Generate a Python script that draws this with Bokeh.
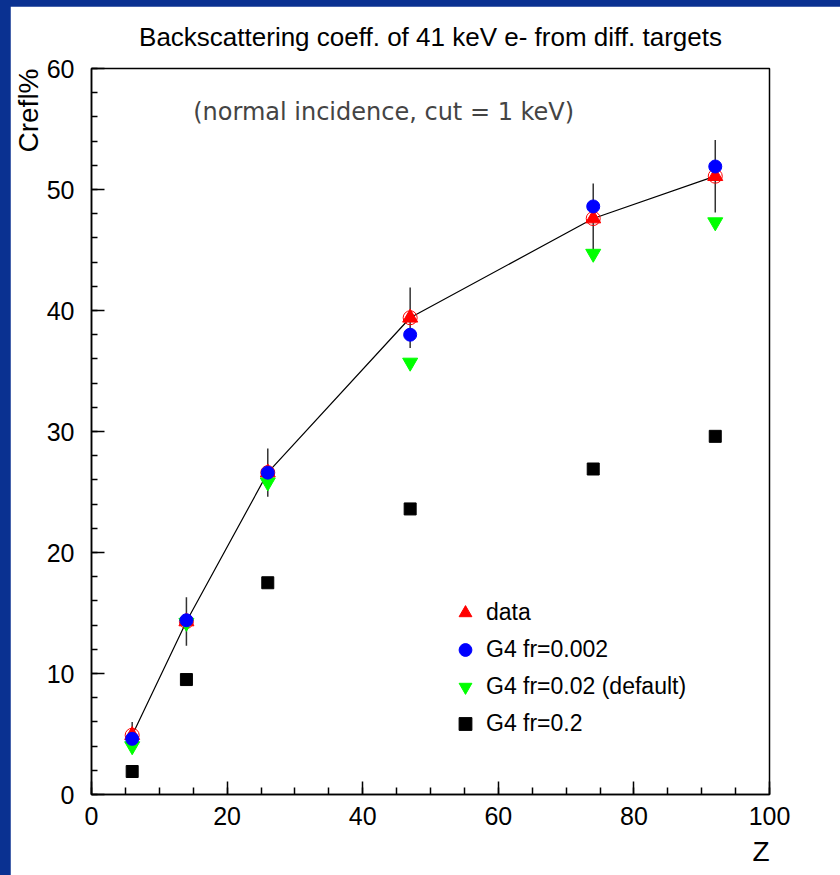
from bokeh.plotting import figure
from bokeh.models import (FixedTicker, Title, Label, Legend, LegendItem, ColumnDataSource)
from bokeh.layouts import column
from bokeh.embed import file_html
from bokeh.resources import INLINE

# ---- data ----
Z = [6, 14, 26, 47, 74, 92]
data = [4.9, 14.3, 26.6, 39.4, 47.6, 51.1]
data_err = [1.1, 2.0, 2.0, 2.5, 2.9, 3.0]
g4_0002 = [4.6, 14.4, 26.6, 38.0, 48.6, 51.9]
g4_002 = [4.0, 14.2, 25.8, 35.7, 44.7, 47.3]
g4_02 = [1.9, 9.5, 17.5, 23.6, 26.9, 29.6]

x_major = [0, 20, 40, 60, 80, 100]
x_minor = list(range(0, 101, 5))
y_major = [0, 10, 20, 30, 40, 50, 60]
y_minor = list(range(0, 61, 2))

title_text = "Backscattering coeff. of 41 keV e- from diff. targets"
note_text = "(normal incidence, cut = 1 keV)"
note_pos = (15.0, 56.4)

FONT = "Liberation Sans"

p = figure(width=830, height=869, x_range=(0, 100), y_range=(0, 60),
           output_backend="svg", toolbar_location=None,
           min_border_left=81, min_border_right=71, min_border_top=61, min_border_bottom=81)
p.margin = (6, 0, 0, 10)
p.background_fill_color = "white"
p.border_fill_color = "white"
p.outline_line_color = "black"
p.outline_line_width = 1.5
p.xgrid.visible = False
p.ygrid.visible = False

p.title = Title(text=title_text, align="center", text_font=FONT, text_color="black",
                text_font_size="26px", text_font_style="normal", standoff=30,
                vertical_align="top")

for ax, maj, mnr in ((p.xaxis[0], x_major, x_minor), (p.yaxis[0], y_major, y_minor)):
    ax.ticker = FixedTicker(ticks=maj, minor_ticks=mnr)
    ax.major_tick_in = 13
    ax.major_tick_out = 0
    ax.minor_tick_out = 0
    ax.axis_line_width = 1.5
    ax.major_tick_line_width = 1.5
    ax.minor_tick_line_width = 1.5
    ax.major_label_text_font = FONT
    ax.major_label_text_font_size = "25px"
    ax.major_label_text_color = "black"
p.xaxis[0].minor_tick_in = 7
p.yaxis[0].minor_tick_in = 6
p.xaxis[0].major_label_standoff = 12
p.yaxis[0].major_label_standoff = 17

p.add_layout(Title(text="Crefl%", align="right", text_font=FONT, text_color="black",
                   text_font_size="28px", text_font_style="normal", standoff=0), "left")
p.add_layout(Title(text="Z", align="right", text_font=FONT, text_color="black",
                   text_font_size="28px", text_font_style="normal", standoff=12), "below")

src = ColumnDataSource(dict(
    Z=Z, data=data,
    lo=[d - e for d, e in zip(data, data_err)],
    hi=[d + e for d, e in zip(data, data_err)],
    g1=g4_0002, g2=g4_002, g3=g4_02))

p.segment(x0="Z", y0="lo", x1="Z", y1="hi", source=src, line_color="#333333", line_width=1.5)
p.line(x="Z", y="data", source=src, line_color="black", line_width=1.2)
p.scatter(x="Z", y="data", source=src, marker="circle", size=14,
          fill_color=None, line_color="red", line_width=1)
r_data = p.scatter(x="Z", y="data", source=src, marker="triangle", size=15,
                   fill_color="red", line_color="red")
r_g2 = p.scatter(x="Z", y="g2", source=src, marker="inverted_triangle", size=15,
                 fill_color="#00ff00", line_color="#00ff00")
r_g1 = p.scatter(x="Z", y="g1", source=src, marker="circle", size=13,
                 fill_color="blue", line_color="blue")
r_g3 = p.scatter(x="Z", y="g3", source=src, marker="square", size=12,
                 fill_color="black", line_color="black")

p.add_layout(Label(x=note_pos[0], y=note_pos[1], text=note_text,
                   text_font="DejaVu Sans", text_font_size="24px",
                   text_color="#444444", text_baseline="middle"))

legend = Legend(items=[
    LegendItem(label="data", renderers=[r_data]),
    LegendItem(label="G4 fr=0.002", renderers=[r_g1]),
    LegendItem(label="G4 fr=0.02 (default)", renderers=[r_g2]),
    LegendItem(label="G4 fr=0.2", renderers=[r_g3]),
], location=(358, 52), padding=0, margin=0, spacing=0,
    glyph_width=32, glyph_height=37, label_height=37, label_standoff=5,
    label_text_font=FONT, label_text_font_size="23px", label_text_color="black",
    background_fill_alpha=0, border_line_alpha=0)
p.add_layout(legend, "center")

lay = column(p, styles={"background-color": "#0a3191"}, width=840, height=875)

with open("out.html", "w") as f:
    f.write(file_html(lay, INLINE))
